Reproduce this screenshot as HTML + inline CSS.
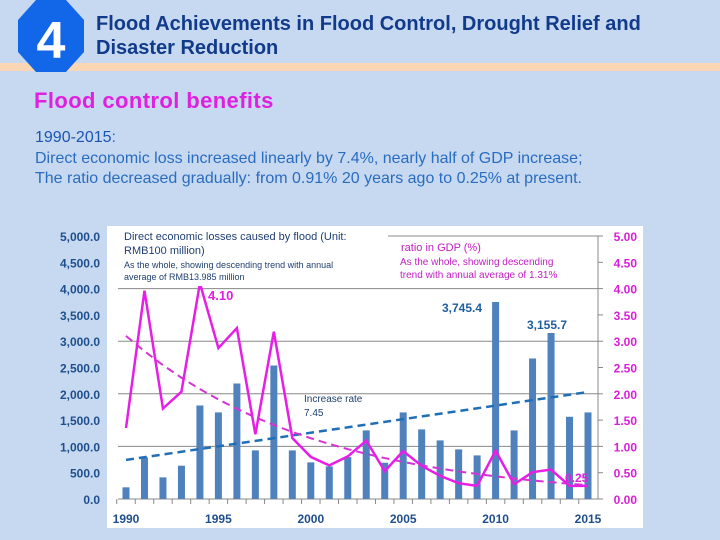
<!DOCTYPE html>
<html><head><meta charset="utf-8"><style>
body{margin:0;width:720px;height:540px;background:#c6d9f0;overflow:hidden;position:relative;font-family:"Liberation Sans",sans-serif}
.abs{position:absolute}
</style></head><body>
<div class="abs" style="left:0;top:63px;width:720px;height:8px;background:#fad6b4"></div>
<svg class="abs" style="left:16px;top:0" width="70" height="74"><polygon points="20,0 50,0 68,20 68,52 50,72 20,72 2,52 2,20" fill="#1266e8"/><text x="35" y="58" text-anchor="middle" font-family="Liberation Sans" font-weight="bold" font-size="52" fill="#fff">4</text></svg>
<div class="abs" style="left:96px;top:12px;font-size:20px;font-weight:bold;color:#123a8a;line-height:24px">Flood Achievements in Flood Control, Drought Relief and<br>Disaster Reduction</div>
<div class="abs" style="left:34px;top:88px;font-size:22px;font-weight:bold;letter-spacing:0.4px;color:#e020e0">Flood control benefits</div>
<div class="abs" style="left:35px;top:128px;font-size:16px;color:#2a6cc0;line-height:20.5px"><span style="color:#1a55b0">1990-2015</span>:<br>Direct economic loss increased linearly by 7.4%, nearly half of GDP increase;<br>The ratio decreased gradually: from 0.91% 20 years ago to 0.25% at present.</div>
<svg class="abs" id="chart" style="left:0;top:0" width="720" height="540"></svg>
<script>
const years=[1990,1991,1992,1993,1994,1995,1996,1997,1998,1999,2000,2001,2002,2003,2004,2005,2006,2007,2008,2009,2010,2011,2012,2013,2014,2015];
const losses=[222,791,411,633,1778,1646,2196,924,2538,924,696,620,797,1304,690,1646,1323,1114,943,829,3745.4,1304,2671,3155.7,1563,1646];
const ratios=[1.35,3.96,1.72,2.04,4.10,2.87,3.25,1.23,3.18,1.16,0.80,0.64,0.81,1.11,0.53,0.91,0.63,0.44,0.30,0.25,0.92,0.28,0.51,0.56,0.25,0.25];
const leftTicks=[0,500,1000,1500,2000,2500,3000,3500,4000,4500,5000];
const rightTicks=[0,0.5,1,1.5,2,2.5,3,3.5,4,4.5,5];
const yearLabels=[1990,1995,2000,2005,2010,2015];
const NS="http://www.w3.org/2000/svg",svg=document.getElementById('chart');
const X0=126,X1=588,Y0=499,Y1=236;
const x=y=>X0+(y-years[0])/(years[years.length-1]-years[0])*(X1-X0);
const yl=v=>Y0-v/5000*(Y0-Y1);
const yr=v=>Y0-v/5*(Y0-Y1);
function el(t,a,p){const e=document.createElementNS(NS,t);for(const k in a)e.setAttribute(k,a[k]);(p||svg).appendChild(e);return e;}
const bg=el('rect',{x:107,y:226,width:536,height:302,fill:'#fff'});


el('rect',{x:40,y:226,width:67,height:280,fill:'#c6d9f0'});
leftTicks.forEach(t=>{
 if(t>0&&t%1000===0){const g=el('line',{x1:118,x2:598,y1:yl(t),y2:yl(t),stroke:'#888','stroke-width':1});
 
 }
 const l=el('text',{x:100,y:yl(t)+5,'text-anchor':'end','font-size':12,'font-weight':'bold',fill:'#1f4e8c'});l.textContent=t.toLocaleString('en-US',{minimumFractionDigits:1,maximumFractionDigits:1});
 
 
});
rightTicks.forEach(t=>{
 const l=el('text',{x:637,y:yr(t)+5,'text-anchor':'end','font-size':12,'font-weight':'bold',fill:'#d81ed8'});l.textContent=t.toFixed(2);
 
 
 el('line',{x1:598,x2:603,y1:yr(t),y2:yr(t),stroke:'#888'});
});
el('line',{x1:118,x2:598,y1:Y0,y2:Y0,stroke:'#888'});
el('line',{x1:598,x2:598,y1:Y1,y2:Y0,stroke:'#888'});
years.forEach(y=>el('line',{x1:x(y)-9.25,x2:x(y)-9.25,y1:Y0,y2:Y0+5,stroke:'#888'}));
yearLabels.forEach(y=>{const l=el('text',{x:x(y),y:523,'text-anchor':'middle','font-size':12,'font-weight':'bold',fill:'#1f4e8c'});l.textContent=y;
 
 });
years.forEach((y,i)=>{const b=el('rect',{x:x(y)-3.5,y:yl(losses[i]),width:7,height:Y0-yl(losses[i]),fill:'#4f81bd'});
 
 });
const n=years.length,idx=years.map((_,i)=>i);
const mx=(n-1)/2,my=losses.reduce((a,b)=>a+b)/n;
let sxy=0,sxx=0;idx.forEach(i=>{sxy+=(i-mx)*(losses[i]-my);sxx+=(i-mx)**2;});
const sl=sxy/sxx,ic=my-sl*mx;
const lt=el('line',{x1:x(years[0]),y1:yl(ic),x2:x(years[n-1]),y2:yl(ic+sl*(n-1)),stroke:'#1f6fb8','stroke-width':2.5,'stroke-dasharray':'8,5'});


const lr=ratios.map(Math.log),mly=lr.reduce((a,b)=>a+b)/n;let s2=0;idx.forEach(i=>s2+=(i-mx)*(lr[i]-mly));
const b2=s2/sxx,a2=mly-b2*mx;
const rt=el('polyline',{points:idx.map(i=>x(years[i])+','+yr(Math.exp(a2+b2*i))).join(' '),fill:'none',stroke:'#d633d6','stroke-width':2,'stroke-dasharray':'8,5'});


const rl=el('polyline',{points:years.map((y,i)=>x(y)+','+yr(ratios[i])).join(' '),fill:'none',stroke:'#e61ee6','stroke-width':2.5});


function txt(s,a,name,col){const t=el('text',a);t.textContent=s;t.setAttribute('fill',col);
 
 return t;}
txt('4.10',{x:208,y:300,'font-size':13,'font-weight':'bold'},'peak-ratio-label','#e020e0');
txt('3,745.4',{x:442,y:312,'font-size':12,'font-weight':'bold'},'peak-loss-label','#1f5e9c');
txt('3,155.7',{x:527,y:329,'font-size':12,'font-weight':'bold'},'second-peak-label','#1f5e9c');
txt('0.25',{x:565,y:482,'font-size':12,'font-weight':'bold'},'latest-ratio-label','#e020e0');
txt('Increase rate',{x:304,y:402,'font-size':10},'increase-rate-label','#1f3f6f');
txt('7.45',{x:304,y:416,'font-size':10},'increase-rate-value','#1f3f6f');
el('rect',{x:118,y:226,width:270,height:60,fill:'#fff'});
txt('Direct economic losses caused by flood (Unit:',{x:124,y:240,'font-size':11},'loss-legend-title','#1f3f6f');
txt('RMB100 million)',{x:124,y:254,'font-size':11},'loss-legend-unit','#1f3f6f');
txt('As the whole, showing descending trend with annual',{x:124,y:268,'font-size':9},'loss-legend-note','#1f3f6f');
txt('average of RMB13.985 million',{x:124,y:280,'font-size':9},'loss-legend-note2','#1f3f6f');
txt('ratio in GDP (%)',{x:401,y:251,'font-size':11},'ratio-legend-title','#c020c0');
txt('As the whole, showing descending',{x:400,y:265,'font-size':10},'ratio-legend-note','#c020c0');
txt('trend with annual average of 1.31%',{x:400,y:278,'font-size':10},'ratio-legend-note2','#c020c0');
</script>
</body></html>
